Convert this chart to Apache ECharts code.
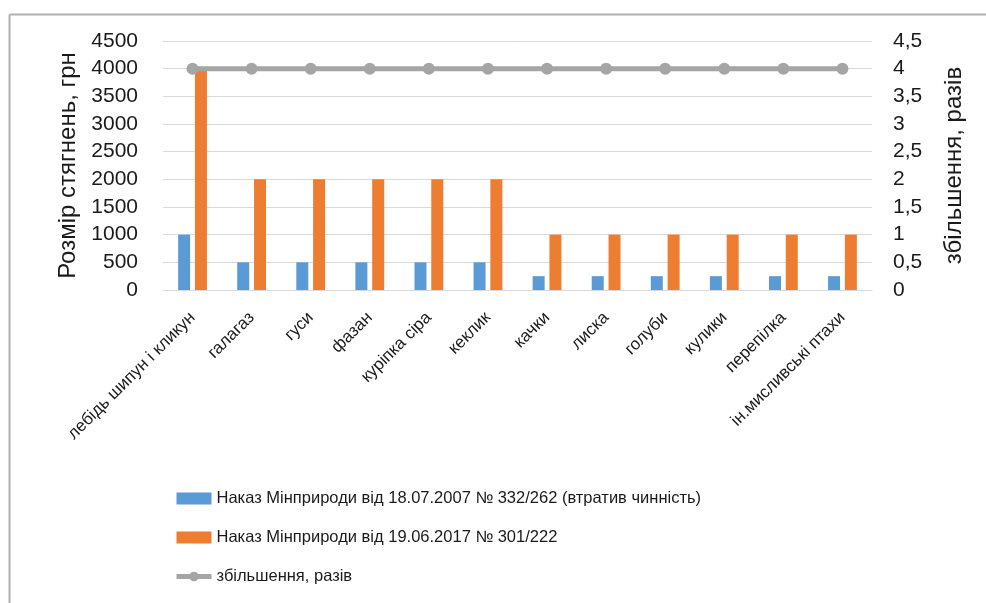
<!DOCTYPE html>
<html><head><meta charset="utf-8">
<script src="https://cdn.jsdelivr.net/npm/echarts@6/dist/echarts.min.js"></script>
<style>html,body{margin:0;padding:0;background:#fff}#c{width:986px;height:603px}</style>
</head><body><div id="c"></div>
<script>
var categories = ['лебідь шипун і кликун','галагаз','гуси','фазан','курiпка сiра','кеклик','качки','лиска','голуби','кулики','перепілка','ін.мисливські птахи'];
var series2007 = [1000,500,500,500,500,500,250,250,250,250,250,250];
var series2017 = [4000,2000,2000,2000,2000,2000,1000,1000,1000,1000,1000,1000];
var increase = [4,4,4,4,4,4,4,4,4,4,4,4];
var leftTicks = {min:0,max:4500,interval:500};
var rightTicks = {min:0,max:4.5,interval:0.5};
var names = ['Наказ Мінприроди від 18.07.2007 № 332/262 (втратив чинність)','Наказ Мінприроди від 19.06.2017 № 301/222','збільшення, разів'];

var font = 'Liberation Sans, sans-serif';
var chart = echarts.init(document.getElementById('c'));
chart.setOption({
  animation:false,
  textStyle:{fontFamily:font},
  graphic:[
    {type:'line',shape:{x1:9.5,y1:14.5,x2:986,y2:14.5},style:{stroke:'#b0b0b0',lineWidth:2}},
    {type:'line',shape:{x1:9.5,y1:14.5,x2:9.5,y2:603},style:{stroke:'#b0b0b0',lineWidth:2}}
  ],
  grid:{left:163,right:114,top:41,bottom:313},
  legend:{orient:'vertical',left:174,top:490,padding:0,itemGap:22,itemWidth:35,itemHeight:12,
    textStyle:{fontSize:16.5,color:'#1a1a1a',fontFamily:font},
    data:[{name:names[0],icon:'rect'},{name:names[1],icon:'rect'},
      {name:names[2],lineStyle:{width:5}}]},
  xAxis:{type:'category',data:categories,
    axisLine:{lineStyle:{color:'#d9d9d9'}},axisTick:{show:false},
    axisLabel:{rotate:45,interval:0,fontSize:17,color:'#1a1a1a',margin:25,fontFamily:font}},
  yAxis:[
    {type:'value',min:leftTicks.min,max:leftTicks.max,interval:leftTicks.interval,
     name:'Розмір стягнень, грн',nameLocation:'middle',nameRotate:90,nameGap:83,
     nameTextStyle:{fontSize:24,color:'#1a1a1a',fontFamily:font},
     axisLabel:{fontSize:21,color:'#1a1a1a',margin:25,fontFamily:font,
       formatter:function(v){return String(v);}},
     splitLine:{lineStyle:{color:'#d9d9d9'}},axisLine:{show:false}},
    {type:'value',min:rightTicks.min,max:rightTicks.max,interval:rightTicks.interval,
     name:'збільшення, разів',nameLocation:'middle',nameRotate:90,nameGap:70,
     nameTextStyle:{fontSize:24,color:'#1a1a1a',fontFamily:font},
     axisLabel:{fontSize:21,color:'#1a1a1a',margin:21,fontFamily:font,
       formatter:function(v){return String(v).replace('.',',');}},
     splitLine:{show:false},axisLine:{show:false}}
  ],
  series:[
    {name:names[0],type:'bar',data:series2007,barWidth:12,barGap:'40%',itemStyle:{color:'#5B9BD5'}},
    {name:names[1],type:'bar',data:series2017,barWidth:12,barGap:'40%',itemStyle:{color:'#ED7D31'}},
    {name:names[2],type:'line',yAxisIndex:1,data:increase,symbol:'circle',symbolSize:12,
     lineStyle:{color:'#A5A5A5',width:5},itemStyle:{color:'#A5A5A5'}}
  ]
});
</script></body></html>
